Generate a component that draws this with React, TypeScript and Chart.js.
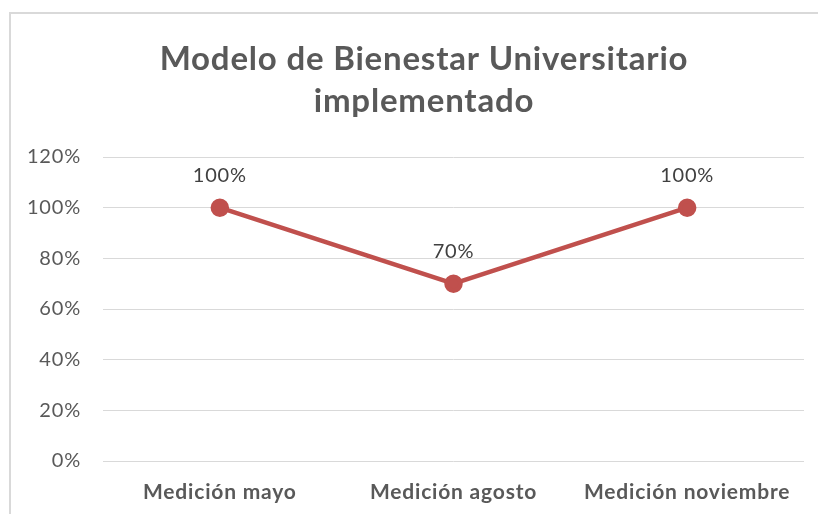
import React, { useEffect, useRef } from "react";
import { Chart, registerables } from "chart.js";

Chart.register(...registerables);

const titleLines = ["Modelo de Bienestar Universitario", "implementado"];
const categories = ["Medición mayo", "Medición agosto", "Medición noviembre"];
const values = [1.0, 0.7, 1.0];
const yMin = 0;
const yMax = 1.2;
const yStep = 0.2;

const FONT = "Lato, 'Open Sans', sans-serif";

const spacingPlugin = {
  id: "spacing",
  beforeDraw(chart: any) {
    (chart.ctx as any).letterSpacing = "0.8px";
  },
};

const titlePlugin = {
  id: "customTitle",
  afterDraw(chart: any) {
    const ctx = chart.ctx;
    ctx.save();
    (ctx as any).letterSpacing = "0.8px";
    ctx.fillStyle = "#595959";
    ctx.font = `bold 33px ${FONT}`;
    ctx.textAlign = "center";
    ctx.textBaseline = "middle";
    ctx.fillText(titleLines[0], 424, 59);
    ctx.fillText(titleLines[1], 424, 101);
    ctx.restore();
  },
};

const dataLabelPlugin = {
  id: "dataLabels",
  afterDatasetsDraw(chart: any) {
    const ctx = chart.ctx;
    const meta = chart.getDatasetMeta(0);
    ctx.save();
    (ctx as any).letterSpacing = "0.8px";
    ctx.fillStyle = "#404040";
    ctx.font = `20px ${FONT}`;
    ctx.textAlign = "center";
    ctx.textBaseline = "middle";
    meta.data.forEach((pt: any, i: number) => {
      const v = chart.data.datasets[0].data[i];
      ctx.fillText(`${Math.round(v * 100)}%`, pt.x, pt.y - 32);
    });
    ctx.restore();
  },
};

export default function App() {
  const ref = useRef<HTMLCanvasElement>(null);
  useEffect(() => {
    if (!ref.current) return;
    const chart = new Chart(ref.current, {
      type: "line",
      data: {
        labels: categories,
        datasets: [
          {
            data: values,
            borderColor: "#C0504D",
            backgroundColor: "#C0504D",
            borderWidth: 4.5,
            pointRadius: 7,
            pointHoverRadius: 7,
            pointBackgroundColor: "#C0504D",
            pointBorderColor: "#C0504D",
            tension: 0,
          },
        ],
      },
      options: {
        responsive: false,
        animation: false,
        devicePixelRatio: 1,
        layout: { padding: { top: 157, left: 0, right: 14, bottom: 0 } },
        plugins: {
          legend: { display: false },
          title: { display: false },
          tooltip: { enabled: false },
        },
        scales: {
          x: {
            offset: true,
            grid: { display: false, drawTicks: false },
            border: { display: false },
            ticks: {
              color: "#595959",
              font: { family: FONT, size: 21, weight: "bold" },
              padding: 19,
              maxRotation: 0,
              autoSkip: false,
            },
            afterFit(scale: any) {
              scale.height = 53;
            },
          },
          y: {
            min: yMin,
            max: yMax,
            grid: { color: "#d9d9d9", lineWidth: 1, drawTicks: false },
            border: { display: false },
            ticks: {
              stepSize: yStep,
              color: "#595959",
              font: { family: FONT, size: 20 },
              padding: 22,
              callback: (v: any) => `${Math.round(Number(v) * 100)}%`,
            },
            afterFit(scale: any) {
              scale.width = 103;
            },
          },
        },
      },
      plugins: [spacingPlugin, titlePlugin, dataLabelPlugin],
    });
    return () => chart.destroy();
  }, []);

  return (
    <div
      style={{
        position: "fixed",
        left: 0,
        top: 0,
        width: 818,
        height: 514,
        overflow: "hidden",
        background: "#fff",
      }}
    >
      <div
        style={{
          position: "absolute",
          left: 9,
          top: 12,
          width: 900,
          height: 600,
          borderLeft: "2px solid #d9d9d9",
          borderTop: "2px solid #d9d9d9",
        }}
      />
      <canvas
        ref={ref}
        width={818}
        height={514}
        style={{ position: "absolute", left: 0, top: 0, width: 818, height: 514 }}
      />
    </div>
  );
}
